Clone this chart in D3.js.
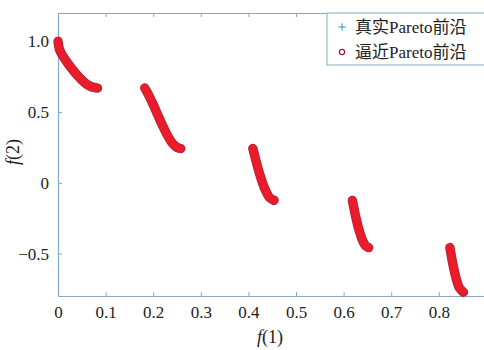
<!DOCTYPE html>
<html><head><meta charset="utf-8">
<script src="https://cdn.jsdelivr.net/npm/d3@7"></script>
<style>body{margin:0;background:#fff}svg{display:block}</style>
</head><body>
<script>
// Segments of the Pareto front
const seg1X = [0, 0.0025, 0.005, 0.01, 0.02, 0.03, 0.04, 0.05, 0.06, 0.07, 0.083];
const seg1Y = [1.0, 0.95, 0.9285, 0.897, 0.8468, 0.8025, 0.762, 0.7264, 0.698, 0.6788, 0.6697];
const seg2X = [0.1822, 0.19, 0.20, 0.21, 0.22, 0.23, 0.24, 0.25, 0.2578];
const seg2Y = [0.6699, 0.6228, 0.5528, 0.4768, 0.4017, 0.3343, 0.2818, 0.25, 0.2422];
const seg3X = [0.4093, 0.415, 0.42, 0.425, 0.43, 0.435, 0.44, 0.445, 0.4539];
const seg3Y = [0.2423, 0.1674, 0.105, 0.0476, -0.0036, -0.0471, -0.0818, -0.1066, -0.1242];
const seg4X = [0.6184, 0.625, 0.63, 0.635, 0.64, 0.645, 0.6525];
const seg4Y = [-0.1243, -0.2325, -0.3034, -0.3627, -0.4087, -0.4402, -0.4583];
const seg5X = [0.8233, 0.828, 0.833, 0.838, 0.843, 0.8518];
const seg5Y = [-0.4578, -0.5479, -0.6297, -0.6946, -0.7409, -0.7733];

const xTicks = [0, 0.1, 0.2, 0.3, 0.4, 0.5, 0.6, 0.7, 0.8, 0.9];
const xTickLabels = ["0", "0.1", "0.2", "0.3", "0.4", "0.5", "0.6", "0.7", "0.8", ""];
const yTicks = [1.0, 0.5, 0, -0.5];
const yTickLabels = ["1.0", "0.5", "0", "\u22120.5"];
const legendLabels = ["真实Pareto前沿", "逼近Pareto前沿"];

const W = 484, H = 350;
const mLeft = 58, mTop = 13, mBottom = 296, mRight = 486.4;
const axisColor = "#86a9c6";
const txtColor = "#222";
const font = "'Liberation Serif','Times New Roman',serif";

const svg = d3.select("body").append("svg").attr("width", W).attr("height", H);

const x = d3.scaleLinear().domain([0, 0.9]).range([mLeft, mRight]);
const y = d3.scaleLinear().domain([-0.8, 1.2]).range([mBottom, mTop]);

const segs = [[seg1X, seg1Y], [seg2X, seg2Y], [seg3X, seg3Y], [seg4X, seg4Y], [seg5X, seg5Y]]
  .map(([xs, ys]) => xs.map((v, i) => [v, ys[i]]));

const xAxisB = d3.axisBottom(x).tickValues(xTicks).tickSize(-4).tickSizeOuter(0)
  .tickFormat((d, i) => xTickLabels[i]).tickPadding(10);
const gx = svg.append("g").attr("transform", `translate(0,${mBottom})`).call(xAxisB);
const xAxisT = d3.axisTop(x).tickValues(xTicks).tickSize(-4).tickSizeOuter(0).tickFormat("");
const gxt = svg.append("g").attr("transform", `translate(0,${mTop})`).call(xAxisT);
const yAxisL = d3.axisLeft(y).tickValues(yTicks).tickSize(-4).tickSizeOuter(0)
  .tickFormat((d, i) => yTickLabels[i]).tickPadding(9);
const gy = svg.append("g").attr("transform", `translate(${mLeft},0)`).call(yAxisL);

[gx, gxt, gy].forEach(g => {
  g.select(".domain").attr("stroke", axisColor).attr("stroke-width", 1.2);
  g.selectAll(".tick line").attr("stroke", axisColor);
  g.selectAll(".tick text").attr("fill", txtColor).style("font-family", font).style("font-size", "17px");
});

// true front (blue plus markers, underneath)
const plusSym = d3.symbol().type(d3.symbolPlus).size(16);
segs.forEach(s => {
  svg.append("g").selectAll("path").data(s).join("path")
    .attr("d", plusSym())
    .attr("transform", d => `translate(${x(d[0])},${y(d[1])})`)
    .attr("fill", "none").attr("stroke", "#2a8fd0").attr("stroke-width", 1);
});

// approximated front (red thick marker band)
const lineGen = d3.line().x(d => x(d[0])).y(d => y(d[1])).curve(d3.curveCatmullRom);
segs.forEach(s => {
  svg.append("path").datum(s).attr("d", lineGen)
    .attr("fill", "none").attr("stroke", "#b0203a").attr("stroke-width", 9.4)
    .attr("stroke-linecap", "round").attr("stroke-linejoin", "round");
  svg.append("path").datum(s).attr("d", lineGen)
    .attr("fill", "none").attr("stroke", "#e81c2a").attr("stroke-width", 8)
    .attr("stroke-linecap", "round").attr("stroke-linejoin", "round");
});

// axis titles
svg.append("text").attr("x", 270).attr("y", 343).attr("text-anchor", "middle")
  .style("font-family", font).style("font-size", "18px").attr("fill", txtColor)
  .html("<tspan font-style='italic'>f</tspan>(1)");
svg.append("text").attr("transform", "translate(19,152) rotate(-90)").attr("text-anchor", "middle")
  .style("font-family", font).style("font-size", "18px").attr("fill", txtColor)
  .html("<tspan font-style='italic'>f</tspan>(2)");

// legend
const lg = svg.append("g");
lg.append("rect").attr("x", 327).attr("y", 13).attr("width", 170).attr("height", 52)
  .attr("fill", "#fff").attr("stroke", axisColor).attr("stroke-width", 1);
const ly = [27, 52];
lg.append("path").attr("d", d3.symbol().type(d3.symbolPlus).size(20)())
  .attr("transform", `translate(342,${ly[0]})`).attr("fill", "none").attr("stroke", "#2a8fd0").attr("stroke-width", 1);
lg.append("circle").attr("cx", 342).attr("cy", ly[1]).attr("r", 2.6)
  .attr("fill", "none").attr("stroke", "#9a1a40").attr("stroke-width", 1.2);
legendLabels.forEach((t, i) => {
  lg.append("text").attr("x", 355).attr("y", ly[i]).attr("dy", "0.35em")
    .style("font-family", "'Liberation Serif','Noto Sans CJK SC',serif").style("font-size", "17px")
    .attr("fill", txtColor).text(t);
});
</script>
</body></html>
